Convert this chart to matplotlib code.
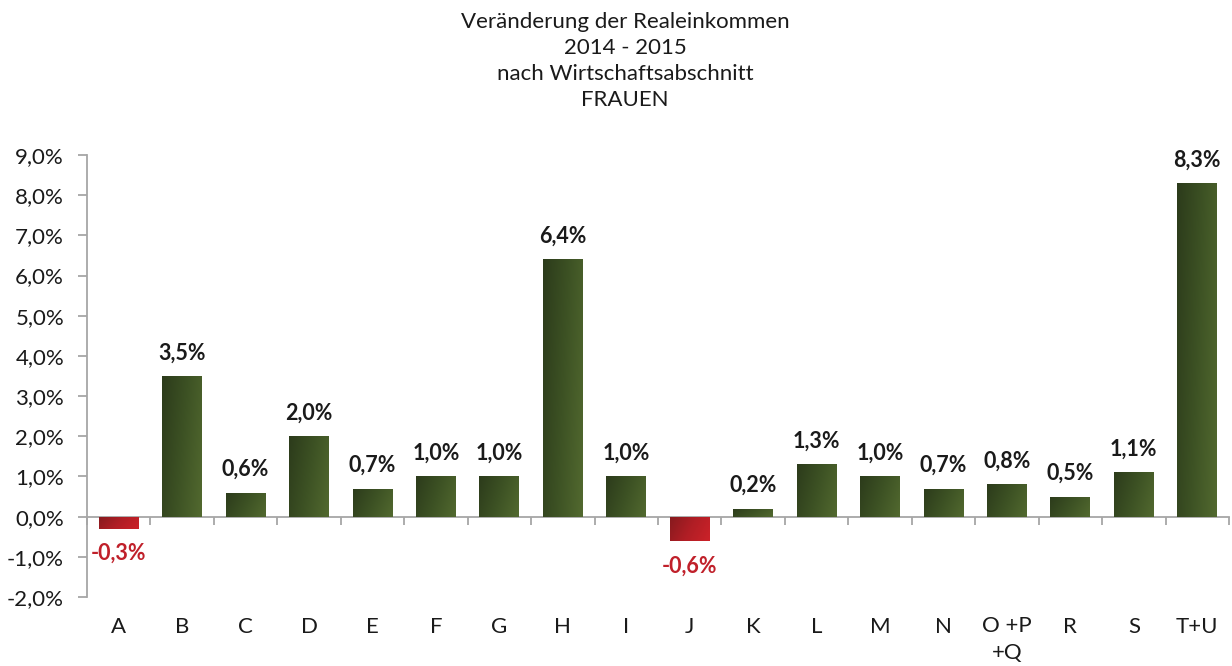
import numpy as np
import matplotlib
matplotlib.use("Agg")
import matplotlib.pyplot as plt
from matplotlib.colors import LinearSegmentedColormap
import matplotlib.transforms as mtransforms

plt.rcParams.update({"font.family": ["Lato", "DejaVu Sans"], "font.size": 16})

categories = ["A", "B", "C", "D", "E", "F", "G", "H", "I", "J", "K", "L", "M", "N",
              "O +P\n+Q", "R", "S", "T+U"]
values = [-0.3, 3.5, 0.6, 2.0, 0.7, 1.0, 1.0, 6.4, 1.0, -0.6, 0.2, 1.3, 1.0, 0.7,
          0.8, 0.5, 1.1, 8.3]
title_lines = ["Veränderung der Realeinkommen", "2014 - 2015",
               "nach Wirtschaftsabschnitt", "FRAUEN"]
yticks = np.arange(-2, 10, 1)

GREEN = LinearSegmentedColormap.from_list("g", ["#2c3b1b", "#3d5224", "#52692f"])
RED = LinearSegmentedColormap.from_list("r", ["#861a1e", "#b01e25", "#cc2229"])
AXC = "#a6a6a6"
TXT = "#1a1a1a"

fig = plt.figure(figsize=(12.32, 6.66), dpi=100)
ax = fig.add_axes([87/1232, 1-597/666, 1142/1232, 442/666])

x = np.arange(len(categories))
bars = ax.bar(x, values, width=0.63, color="#3d5224", zorder=2)

# diagonal gradient fill, clipped to each bar
gx, gy = np.meshgrid(np.linspace(0, 1, 60), np.linspace(0, 1, 200))
for b, v in zip(bars, values):
    x0, w = b.get_x(), b.get_width()
    y0, y1 = min(0, v), max(0, v)
    grad = 0.75*gx + 0.25*gy
    im = ax.imshow(grad, cmap=GREEN if v >= 0 else RED, extent=(x0, x0+w, y0, y1),
                   origin="upper", aspect="auto", zorder=3, vmin=0, vmax=1)
    im.set_clip_path(b)
    b.set_facecolor("none")

ax.set_xlim(-0.5, len(categories)-0.5)
ax.set_ylim(-2, 9)

for s in ["top", "right"]:
    ax.spines[s].set_visible(False)
ax.spines["left"].set_color(AXC)
ax.spines["left"].set_linewidth(1.3)
ax.spines["bottom"].set_position(("data", 0))
ax.spines["bottom"].set_color(AXC)
ax.spines["bottom"].set_linewidth(1.3)

ax.set_yticks(yticks)
ax.set_yticklabels([f"{t:.1f}%".replace(".", ",") for t in yticks], fontsize=16, color=TXT)
ax.tick_params(axis="y", direction="out", length=6.5, width=1.3, color=AXC, pad=10)

ax.set_xticks(np.arange(len(categories)+1) - 0.5)
ax.set_xticklabels([])
ax.tick_params(axis="x", direction="out", length=6, width=1.3, color=AXC)

# category labels below the plot area (multi-line one aligned to its first line)
trans = mtransforms.blended_transform_factory(ax.transData, ax.transAxes)
for xi, c in zip(x, categories):
    multi = "\n" in c
    ax.text(xi, (-30 + (11 if multi else 0))/442, c, transform=trans, ha="center",
            va="top" if multi else "center", fontsize=16, color=TXT, linespacing=1.45)

# value labels
for xi, v in zip(x, values):
    lab = f"{v:.1f}%".replace(".", ",")
    if v >= 0:
        ax.annotate(lab, (xi, v), xytext=(0, 23), textcoords="offset pixels",
                    ha="center", va="center", fontsize=15.5, fontweight="bold", color=TXT)
    else:
        ax.annotate(lab, (xi, v), xytext=(0, -25), textcoords="offset pixels",
                    ha="center", va="center", fontsize=15.5, fontweight="bold", color="#c0202a")

for i, t in enumerate(title_lines):
    fig.text(625/1232, 1 - (22 + 26*i)/666, t, ha="center", va="center",
             fontsize=16, color=TXT)

fig.savefig("out.png", dpi=100)
